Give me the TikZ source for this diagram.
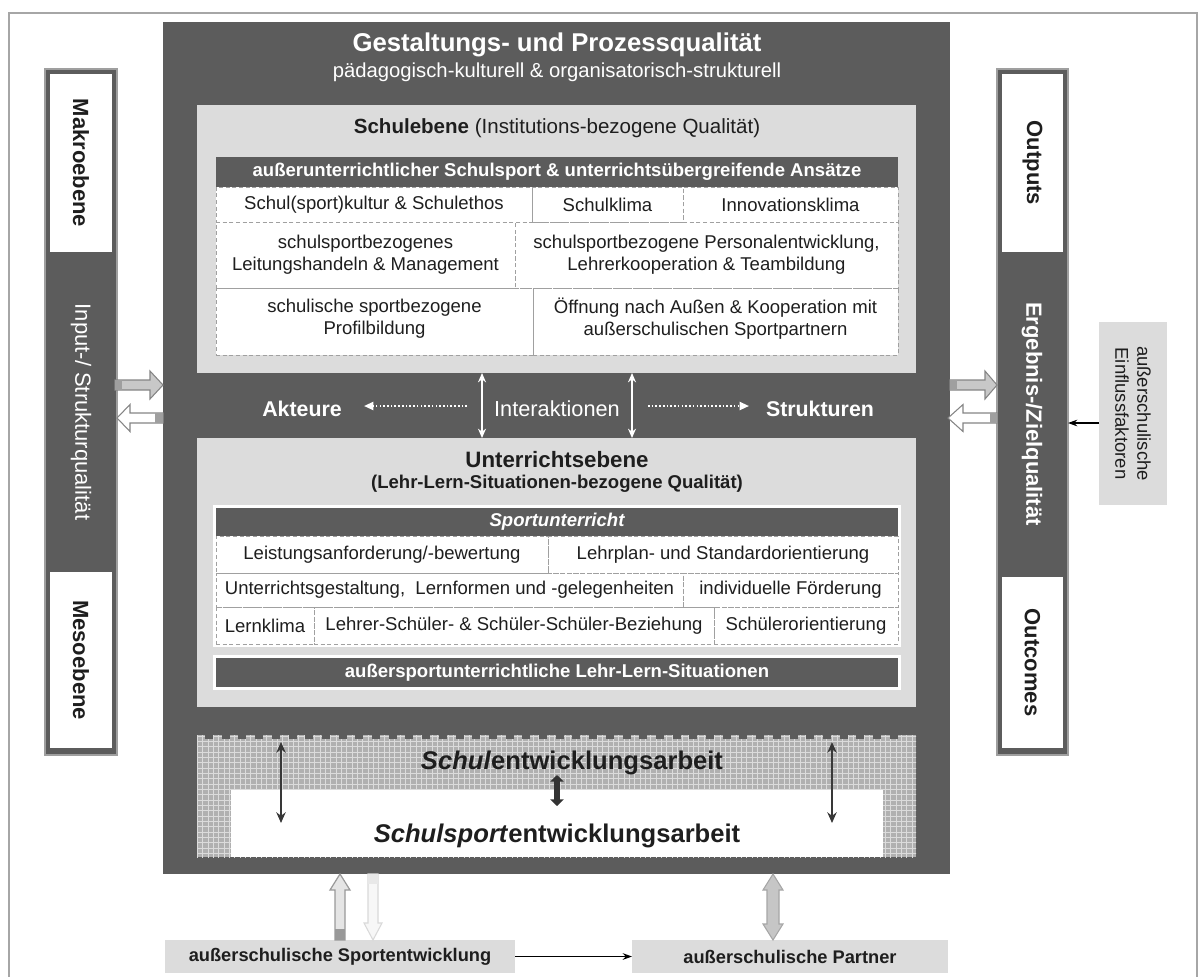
\documentclass[tikz,border=0pt]{standalone}
\usepackage{fontspec}
\setmainfont{Liberation Sans}
\usetikzlibrary{fit,arrows.meta,patterns}
\definecolor{dk}{HTML}{5C5C5C}
\definecolor{lt}{HTML}{DCDCDC}
\definecolor{dashc}{HTML}{A0A0A0}
\definecolor{txt}{HTML}{1E1E1E}
\definecolor{arrg}{HTML}{C8C8C8}
\definecolor{arrline}{HTML}{858585}
\pgfdeclarepatternformonly{biggrid}{\pgfqpoint{-1pt}{-1pt}}{\pgfqpoint{5pt}{5pt}}{\pgfqpoint{4pt}{4pt}}{%
  \pgfsetlinewidth{0.75pt}%
  \pgfpathmoveto{\pgfqpoint{0pt}{0pt}}\pgfpathlineto{\pgfqpoint{0pt}{4.1pt}}%
  \pgfpathmoveto{\pgfqpoint{0pt}{0pt}}\pgfpathlineto{\pgfqpoint{4.1pt}{0pt}}%
  \pgfusepath{stroke}}
\newcommand\blkH[7]{\draw[#1] (#2,#5-#6) -- (#3,#5-#6) -- (#3,#5-#7) -- (#4,#5) -- (#3,#5+#7) -- (#3,#5+#6) -- (#2,#5+#6) -- cycle;}
\newcommand\blkV[7]{\draw[#1] (#2-#6,#3) -- (#2-#6,#4) -- (#2-#7,#4) -- (#2,#5) -- (#2+#7,#4) -- (#2+#6,#4) -- (#2+#6,#3) -- cycle;}
\newcommand\blkD[8]{\draw[#1] (#2,#3) -- (#2+#8,#4) -- (#2+#7,#4) -- (#2+#7,#5) -- (#2+#8,#5) -- (#2,#6) -- (#2-#8,#5) -- (#2-#7,#5) -- (#2-#7,#4) -- (#2-#8,#4) -- cycle;}
\tikzset{
  area/.style={inner sep=0pt, outer sep=0pt},
  cell/.style={area, draw=dashc, dash pattern=on 3pt off 2pt, line width=0.6pt, align=center, text=txt, font=\fontsize{13.9}{16.5}\selectfont},
  bar/.style={area, fill=dk, text=white, font=\bfseries\fontsize{13.9}{16.5}\selectfont},
  col/.style={area, fill=dk, draw=gray!75, line width=1pt},
  wbox/.style={area, fill=white},
  vlab/.style={rotate=-90, font=\bfseries\fontsize{16.5}{19}\selectfont},
  lowbox/.style={area, fill=lt, text=txt, font=\bfseries\fontsize{13.7}{16}\selectfont},
  thin/.style={-{Stealth[length=7pt,width=5pt]}, line width=0.9pt, black},
  dbl/.style={line width=2pt, black!78, {Stealth[length=8pt,width=7pt]}-{Stealth[length=8pt,width=7pt]}},
}
\begin{document}
\begin{tikzpicture}[x=0.75pt,y=-0.75pt]
\useasboundingbox (0,0) rectangle (1199,976);
\draw[gray!70, line width=1.1pt] (9,13) rectangle (1197,1000);

% main box
\node[area, fill=dk, fit={(163,22)(950,874)}] (main) {};
\node[text=white, font=\bfseries\fontsize{19.3}{22}\selectfont] (title) at (557,45) {Gestaltungs- und Prozessqualität};
\node[text=white, font=\fontsize{15.2}{18}\selectfont] (subtitle) at (557,72) {pädagogisch-kulturell \& organisatorisch-strukturell};

% Schulebene
\node[area, fill=lt, fit={(197,105)(916,373)}] (schul) {};
\node[text=txt, font=\fontsize{15.4}{18}\selectfont] (schultitle) at (557,128) {\textbf{Schulebene} (Institutions-bezogene Qualität)};
\node[area, fill=white, fit={(216,157)(898,355)}] (stab) {};
\node[bar, fit={(216,157)(898,187)}] (shead) {};
\node[text=white, font=\bfseries\fontsize{13.9}{16.5}\selectfont] (sheadt) at (shead.center) {außerunterrichtlicher Schulsport \& unterrichtsübergreifende Ansätze};
\node[cell, fit={(216,187)(532,222)}] (c11) {};
\node[cell, fit={(532,187)(683,222)}] (c12) {};
\node[cell, fit={(683,187)(898,222)}] (c13) {};
\node[cell, fit={(216,222)(515,288)}] (c21) {};
\node[cell, fit={(515,222)(898,288)}] (c22) {};
\node[cell, fit={(216,288)(533,355)}] (c31) {};
\node[cell, fit={(533,288)(898,355)}] (c32) {};
\node[cell, draw=none] (t11) at (c11.center) {Schul(sport)kultur \& Schulethos};
\node[cell, draw=none] (t12) at (c12.center) {Schulklima};
\node[cell, draw=none] (t13) at (c13.center) {Innovationsklima};
\node[cell, draw=none] (t21) at (c21.center) {schulsportbezogenes\\Leitungshandeln \& Management};
\node[cell, draw=none] (t22) at (c22.center) {schulsportbezogene Personalentwicklung,\\Lehrerkooperation \& Teambildung};
\node[cell, draw=none] (t31) at ([yshift=2pt]c31.center) {schulische sportbezogene\\Profilbildung};
\node[cell, draw=none] (t32) at ([yshift=2pt]c32.center) {Öffnung nach Außen \& Kooperation mit\\außerschulischen Sportpartnern};

% middle band
\node[text=white, font=\bfseries\fontsize{16}{19}\selectfont] (akt) at (302,409) {Akteure};
\node[text=white, font=\bfseries\fontsize{16}{19}\selectfont] (str) at (820,409) {Strukturen};
\node[text=white, font=\fontsize{16.3}{19}\selectfont] (inter) at (557,409) {Interaktionen};
\coordinate (dl1) at (467,406); \coordinate (dl2) at (364,406);
\coordinate (dr1) at (648,406); \coordinate (dr2) at (749,406);
\draw[white, line width=1.5pt, dash pattern=on 1.2pt off 1.6pt, -{Triangle[length=7pt,width=6pt]}] (dl1) -- (dl2);
\draw[white, line width=1.5pt, dash pattern=on 1.2pt off 1.6pt, -{Triangle[length=7pt,width=6pt]}] (dr1) -- (dr2);

% Unterrichtsebene
\node[area, fill=lt, fit={(197,438)(916,707)}] (unt) {};
\draw[white, line width=1.1pt, {Stealth[length=7pt,width=6pt]}-{Stealth[length=7pt,width=6pt]}] (schul.south -| 482,0) -- (unt.north -| 482,0);
\draw[white, line width=1.1pt, {Stealth[length=7pt,width=6pt]}-{Stealth[length=7pt,width=6pt]}] (schul.south -| 632,0) -- (unt.north -| 632,0);
\node[text=txt, font=\bfseries\fontsize{16.7}{19}\selectfont] (unttitle) at (557,460) {Unterrichtsebene};
\node[text=txt, font=\bfseries\fontsize{13.9}{16}\selectfont] (untsub) at (557,484) {(Lehr-Lern-Situationen-bezogene Qualität)};
\node[area, fill=white, fit={(213,505)(901,647)}] (utab) {};
\node[bar, fit={(216,508)(898,536)}] (uhead) {};
\node[text=white, font=\bfseries\itshape\fontsize{13.9}{16.5}\selectfont] (uheadt) at (uhead.center) {Sportunterricht};
\node[cell, fit={(216,536)(548,573)}] (u11) {};
\node[cell, fit={(548,536)(898,573)}] (u12) {};
\node[cell, fit={(216,573)(683,607)}] (u21) {};
\node[cell, fit={(683,573)(898,607)}] (u22) {};
\node[cell, fit={(216,607)(314,644)}] (u31) {};
\node[cell, fit={(314,607)(714,644)}] (u32) {};
\node[cell, fit={(714,607)(898,644)}] (u33) {};
\node[cell, draw=none] at (u11.center) {Leistungsanforderung/-bewertung};
\node[cell, draw=none] at (u12.center) {Lehrplan- und Standardorientierung};
\node[cell, draw=none] at (u21.center) {Unterrichtsgestaltung,\ \ Lernformen und -gelegenheiten};
\node[cell, draw=none] at (u22.center) {individuelle Förderung};
\node[cell, draw=none] at (u31.center) {Lernklima};
\node[cell, draw=none] at (u32.center) {Lehrer-Schüler- \& Schüler-Schüler-Beziehung};
\node[cell, draw=none] at (u33.center) {Schülerorientierung};
\node[area, fill=white, fit={(213,655)(901,690)}] (ubarw) {};
\node[bar, fit={(216,658)(898,687)}] (ubar) {};
\node[text=white, font=\bfseries\fontsize{13.9}{16.5}\selectfont] (ubart) at (ubar.center) {außersportunterrichtliche Lehr-Lern-Situationen};

% Schulentwicklung hatch
\node[area, fit={(197,735)(916,857)}, preaction={fill=gray!62}, pattern=biggrid, pattern color=gray!28] (hatch) {};
\foreach \xx in {205,221.7,...,905} {\fill[dk] (\xx,735) rectangle (\xx+8,739);}
\node[area, fill=white, fit={(231,790)(883,857)}] (inner) {};
\node[text=txt, font=\bfseries\fontsize{19.2}{22}\selectfont] (seA) at (572,763) {\textit{Schul}entwicklungsarbeit};
\node[text=txt, font=\bfseries\fontsize{19.2}{22}\selectfont] (seB) at (557,836) {\textit{Schulsport}entwicklungsarbeit};
\draw[line width=4pt, black!80, {Triangle[length=5pt,width=10pt]}-{Triangle[length=5pt,width=10pt]}] (557,775) -- (557,806);
\draw[dbl] (281,742) -- (281,823);
\draw[dbl] (832,742) -- (832,823);

% left column
\node[col, fit={(45,69)(117,755)}] (lcol) {};
\node[wbox, fit={(50,74)(112,252)}] (makro) {};
\node[wbox, fit={(50,572)(112,748)}] (meso) {};
\node[vlab, text=txt] at (makro.center) {Makroebene};
\node[vlab, text=txt] at (meso.center) {Mesoebene};
\node[vlab, text=white, font=\fontsize{16.5}{19}\selectfont] (inq) at (81,412) {Input-/ Strukturqualität};

% right column
\node[col, fit={(997,69)(1068,755)}] (rcol) {};
\node[wbox, fit={(1002,74)(1063,252)}] (outp) {};
\node[wbox, fit={(1002,577)(1063,748)}] (outc) {};
\node[vlab, text=txt] at (outp.center) {Outputs};
\node[vlab, text=txt] at (outc.center) {Outcomes};
\node[vlab, text=white] (erg) at (1032,414) {Ergebnis-/Zielqualität};

% Einflussfaktoren
\node[area, fill=lt, fit={(1099,322)(1167,505)}] (einfl) {};
\node[rotate=-90, align=center, text=txt, font=\fontsize{13.9}{16.5}\selectfont] at (einfl.center) {außerschulische\\Einflussfaktoren};
\draw[thin] (einfl.west |- 0,423) -- (rcol.east |- 0,423);

% block arrows left / right
\blkH{fill=arrg, draw=arrline, line width=0.8pt}{115}{150}{163}{385}{5}{14}
\fill[gray!75] (115,380) rectangle (122,390);
\blkH{fill=white, draw=arrline, line width=0.8pt}{163}{130}{117}{418}{5}{13.5}
\fill[gray!75] (155,413) rectangle (163,423);
\blkH{fill=arrg, draw=arrline, line width=0.8pt}{950}{985}{997}{385}{5}{14}
\fill[gray!75] (950,380) rectangle (957,390);
\blkH{fill=white, draw=arrline, line width=0.8pt}{997}{963}{948}{418}{5}{13.5}
\fill[gray!75] (990,413) rectangle (997,423);

% bottom boxes
\node[lowbox, fit={(165,940)(515,973)}] (sportent) {};
\node[text=txt, font=\bfseries\fontsize{13.7}{16}\selectfont] at (sportent.center) {außerschulische Sportentwicklung};
\node[lowbox, fit={(632,940)(948,973)}] (partner) {};
\node[text=txt, font=\bfseries\fontsize{13.7}{16}\selectfont] at (partner.center) {außerschulische Partner};
\draw[thin] (sportent.east) -- (partner.west);

% bottom block arrows
\blkV{fill=gray!20, draw=gray!80, line width=0.9pt}{340}{940}{890}{874}{5}{10}
\fill[gray!80] (335,929) rectangle (345,940);
\blkV{fill=gray!6, draw=gray!30, line width=0.8pt}{373}{874}{923}{940}{5}{9}
\fill[gray!18] (368,874) rectangle (378,884);
\blkD{fill=gray!45, draw=gray!70, line width=0.8pt}{773}{874}{890}{924}{940}{6}{10}
\end{tikzpicture}
\end{document}
